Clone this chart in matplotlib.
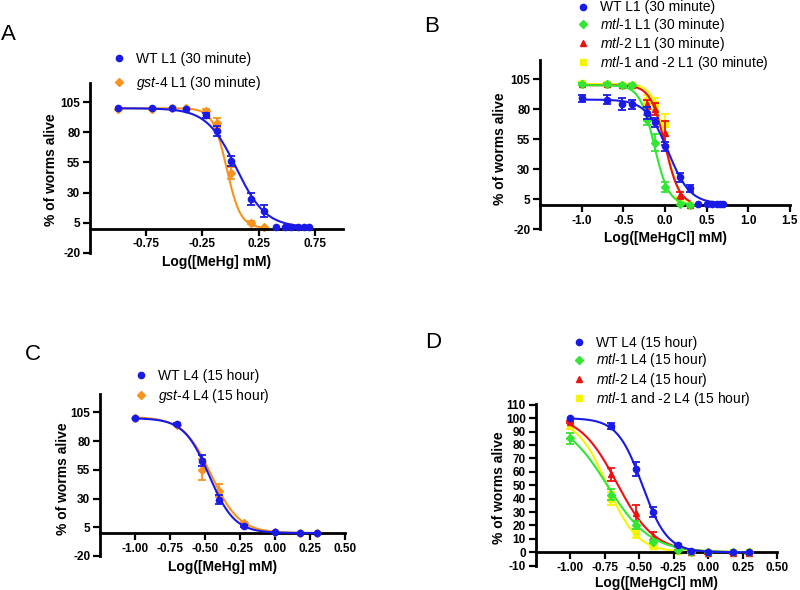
import numpy as np
import matplotlib
matplotlib.use("Agg")
import matplotlib.pyplot as plt
from matplotlib.lines import Line2D

plt.rcParams['font.family'] = ['Liberation Sans', 'DejaVu Sans']
plt.rcParams['mathtext.fontset'] = 'custom'
plt.rcParams['mathtext.rm'] = 'Liberation Sans'
plt.rcParams['mathtext.it'] = 'Liberation Sans:italic'
plt.rcParams['axes.unicode_minus'] = False

BLUE = '#1a1ae6'
ORANGE = '#f7931e'
GREEN = '#33e633'
RED = '#ee1111'
YELLOW = '#f5f500'

# ---- panel A : L1, 30 minute, MeHg ----
a_x = [-1.0, -0.7, -0.52, -0.4, -0.22, -0.12, 0.0, 0.18, 0.3, 0.4, 0.48, 0.54, 0.6, 0.65, 0.7]
a_wt = [100, 100, 100, 99, 94, 81, 56, 25, 15, 1, 1, 1, 1, 1, 1]
a_wt_err = [0, 0, 0, 0, 2, 4, 4, 5, 5, 0, 0, 0, 0, 0, 0]
a_gst_x = [-1.0, -0.7, -0.52, -0.4, -0.22, -0.12, 0.0, 0.18, 0.3]
a_gst = [99, 99, 100, 100, 98, 88, 46, 5, 1]
a_gst_err = [0, 0, 0, 0, 1, 4, 5, 1, 0]
# fitted curves: top, bottom, logEC50, hill slope
a_wt_fit = (100, 1, 0.05, 3.3)
a_gst_fit = (100, 0.5, -0.035, 7.0)

# ---- panel B : L1, 30 minute, MeHgCl ----
b_x = [-1.0, -0.7, -0.52, -0.4, -0.22, -0.12, 0.0, 0.18, 0.3, 0.4, 0.5, 0.56, 0.62, 0.66, 0.7]
b_wt = [89, 88, 84, 84, 77, 69, 49, 23, 14, 1, 1, 1, 1, 1, 1]
b_wt_err = [3, 4, 5, 4, 5, 4, 4, 4, 3, 0, 0, 0, 0, 0, 0]
b_mut_x = [-1.0, -0.7, -0.52, -0.4, -0.22, -0.12, 0.0, 0.18, 0.3]
b_mtl1 = [101, 101, 100, 100, 71, 52, 15, 1, 0]
b_mtl1_err = [1, 1, 1, 1, 4, 7, 4, 0, 0]
b_mtl2 = [101, 101, 100, 100, 84, 80, 60, 8, 0]
b_mtl2_err = [1, 1, 1, 1, 4, 5, 10, 3, 0]
b_both = [102, 101, 100, 100, 88, 84, 68, 5, 0]
b_both_err = [1, 1, 1, 1, 4, 5, 8, 2, 0]
b_wt_fit = (88, 1, 0.038, 3.3)
b_mtl1_fit = (100, 0, -0.13, 5.0)
b_mtl2_fit = (100, 0, 0.0, 5.0)
b_both_fit = (101, 0, 0.01, 5.5)

# ---- panel C : L4, 15 hour, MeHg ----
c_x = [-1.0, -0.7, -0.52, -0.4, -0.22, 0.0, 0.18, 0.3]
c_wt = [100, 95, 63, 29, 6, 1, 0, 0]
c_wt_err = [0, 1, 5, 4, 1, 0, 0, 0]
c_gst = [100, 94, 55, 37, 9, 1, 0, 0]
c_gst_err = [0, 1, 9, 6, 1, 0, 0, 0]
c_wt_fit = (100, 0, -0.47, 4.8)
c_gst_fit = (101, 0, -0.455, 4.3)

# ---- panel D : L4, 15 hour, MeHgCl ----
d_x = [-1.0, -0.7, -0.52, -0.4, -0.22, -0.12, 0.0, 0.18, 0.3]
d_wt = [100, 94, 62, 30, 5.5, 1, 0, 0, 0]
d_wt_err = [0, 2.5, 5, 4, 1, 0, 0, 0, 0]
d_mtl1 = [85, 43, 20, 8, 2, 0, 0, 0, 0]
d_mtl1_err = [4, 4, 3, 1, 0, 0, 0, 0, 0]
d_mtl2 = [97, 58, 29, 12, 3, 0.5, -0.5, -0.5, -0.5]
d_mtl2_err = [1, 5, 6, 3, 1, 1, 1, 1, 1]
d_both = [95, 40, 14, 5, 1, 0, 0, 0, 0]
d_both_err = [3, 5, 3, 1, 0, 0, 0, 0, 0]
d_wt_fit = (100, 0, -0.476, 4.8)
d_mtl1_fit = (100, 0, -0.73, 2.8)
d_mtl2_fit = (103, 0, -0.66, 3.2)
d_both_fit = (100, 0, -0.73, 4.0)

W, H = 800, 590
fig = plt.figure(figsize=(8, 5.9), dpi=100)


def logistic(x, top, bottom, ec, hill):
    return bottom + (top - bottom) / (1 + 10 ** ((x - ec) * hill))


def draw_series(ax, x, y, err, fit, color, marker, ms, z):
    x = np.asarray(x, float)
    y = np.asarray(y, float)
    err = np.asarray(err, float)
    xs = np.linspace(x.min(), x.max(), 300)
    ax.plot(xs, logistic(xs, *fit), color=color, lw=1.5, zorder=z)
    m = err > 0
    ax.errorbar(x[m], y[m], yerr=err[m], fmt='none', ecolor=color,
                elinewidth=1.3, capsize=2.6, capthick=1.3, zorder=z)
    ax.plot(x, y, ls='none', marker=marker, color=color, ms=ms, zorder=z + 0.5)


def px_axes(left, right, top, bottom):
    return fig.add_axes([left / W, 1 - bottom / H, (right - left) / W, (bottom - top) / H])


def style(ax, xlim, xticks, xfmt, ylim, yticks, xlabel, lab_pos):
    ax.set_xlim(*xlim)
    ax.set_ylim(*ylim)
    for s in ('top', 'right'):
        ax.spines[s].set_visible(False)
    ax.spines['bottom'].set_position(('data', 0))
    ax.spines['left'].set_linewidth(2)
    ax.spines['bottom'].set_linewidth(2)
    ax.set_xticks(xticks, labels=[xfmt % t for t in xticks], fontweight='bold')
    ax.set_yticks(yticks, labels=['%d' % t for t in yticks], fontweight='bold')
    ax.tick_params(axis='both', width=1.6, length=5, labelsize=8.5, pad=2)
    ax.set_xlabel(xlabel, fontsize=10, fontweight='bold')
    ax.set_ylabel('% of worms alive', fontsize=10, fontweight='bold')
    ax.xaxis.set_label_coords(*lab_pos[0])
    ax.xaxis.label.set_va('center')
    ax.yaxis.set_label_coords(*lab_pos[1])
    ax.yaxis.label.set_va('center')
    ax.yaxis.label.set_rotation_mode('anchor')


def legend(ax, entries, x_px, y_px, spacing):
    handles = [Line2D([], [], ls='none', marker=mk, color=c, ms=ms) for c, mk, ms, _ in entries]
    labels = [lab for *_, lab in entries]
    ax.legend(handles, labels, loc='upper left', bbox_to_anchor=(x_px / W, 1 - y_px / H),
              bbox_transform=fig.transFigure, frameon=False, fontsize=10,
              handlelength=0.8, handletextpad=0.8, borderpad=0, borderaxespad=0,
              labelspacing=spacing)


# panel A
axA = px_axes(90, 343, 83, 252.7)
draw_series(axA, a_gst_x, a_gst, a_gst_err, a_gst_fit, ORANGE, 'D', 3.8, 2)
draw_series(axA, a_x, a_wt, a_wt_err, a_wt_fit, BLUE, 'o', 4.5, 3)
style(axA, (-1.25, 1.0), [-0.75, -0.25, 0.25, 0.75], '%.2f', (-20, 121),
      [-20, 5, 30, 55, 80, 105], 'Log([MeHg] mM)', ((0.5, -0.055), (-0.154, 0.489)))
legend(axA, [(BLUE, 'o', 4.5, 'WT L1 (30 minute)'),
             (ORANGE, 'D', 3.8, r'$\mathit{gst}$-$\mathit{4}$ L1 (30 minute)')],
       113.5, 52, 0.55)

# panel B
axB = px_axes(540, 790, 60, 229)
draw_series(axB, b_mut_x, b_both, b_both_err, b_both_fit, YELLOW, 's', 4.0, 2)
draw_series(axB, b_mut_x, b_mtl2, b_mtl2_err, b_mtl2_fit, RED, '^', 4.5, 3)
draw_series(axB, b_mut_x, b_mtl1, b_mtl1_err, b_mtl1_fit, GREEN, 'D', 3.8, 4)
draw_series(axB, b_x, b_wt, b_wt_err, b_wt_fit, BLUE, 'o', 4.5, 5)
style(axB, (-1.5, 1.5), [-1.0, -0.5, 0.0, 0.5, 1.0, 1.5], '%.1f', (-20, 121),
      [-20, 5, 30, 55, 80, 105], 'Log([MeHgCl] mM)', ((0.5, -0.053), (-0.16, 0.473)))
legend(axB, [(BLUE, 'o', 4.5, 'WT L1 (30 minute)'),
             (GREEN, 'D', 3.8, r'$\mathit{mtl}$-$\mathit{1}$ L1 (30 minute)'),
             (RED, '^', 4.5, r'$\mathit{mtl}$-$\mathit{2}$ L1 (30 minute)'),
             (YELLOW, 's', 4.0, r'$\mathit{mtl}$-$\mathit{1}$ and -$\mathit{2}$ L1 (30 minute)')],
       577.5, 0.5, 0.08)

# panel C
axC = px_axes(100, 345, 394, 556)
draw_series(axC, c_x, c_gst, c_gst_err, c_gst_fit, ORANGE, 'D', 3.8, 2)
draw_series(axC, c_x, c_wt, c_wt_err, c_wt_fit, BLUE, 'o', 4.5, 3)
style(axC, (-1.25, 0.5), [-1.0, -0.75, -0.5, -0.25, 0.0, 0.25, 0.5], '%.2f', (-20, 121),
      [-20, 5, 30, 55, 80, 105], 'Log([MeHg] mM)', ((0.502, -0.068), (-0.151, 0.478)))
legend(axC, [(BLUE, 'o', 4.5, 'WT L4 (15 hour)'),
             (ORANGE, 'D', 3.8, r'$\mathit{gst}$-$\mathit{4}$ L4 (15 hour)')],
       135.5, 369, 0.3)

# panel D
axD = px_axes(535.5, 777, 404, 565.7)
draw_series(axD, d_x, d_both, d_both_err, d_both_fit, YELLOW, 's', 4.0, 2)
draw_series(axD, d_x, d_mtl2, d_mtl2_err, d_mtl2_fit, RED, '^', 4.5, 3)
draw_series(axD, d_x, d_mtl1, d_mtl1_err, d_mtl1_fit, GREEN, 'D', 3.8, 4)
draw_series(axD, d_x, d_wt, d_wt_err, d_wt_fit, BLUE, 'o', 4.5, 5)
style(axD, (-1.25, 0.5), [-1.0, -0.75, -0.5, -0.25, 0.0, 0.25, 0.5], '%.2f', (-10, 110.5),
      list(range(-10, 111, 10)), 'Log([MeHgCl] mM)', ((0.503, -0.108), (-0.151, 0.48)))
legend(axD, [(BLUE, 'o', 4.5, 'WT L4 (15 hour)'),
             (GREEN, 'D', 3.8, r'$\mathit{mtl}$-$\mathit{1}$ L4 (15 hour)'),
             (RED, '^', 4.5, r'$\mathit{mtl}$-$\mathit{2}$ L4 (15 hour)'),
             (YELLOW, 's', 4.0, r'$\mathit{mtl}$-$\mathit{1}$ and -$\mathit{2}$ L4 (15 hour)')],
       573.5, 336, 0.1)

# panel letters
for letter, (lx, ly) in zip('ABCD', [(8, 35), (432, 27), (33, 354), (433, 343)]):
    fig.text(lx / W, 1 - ly / H, letter, fontsize=16, ha='center', va='center')

fig.savefig('out.png', dpi=100)
